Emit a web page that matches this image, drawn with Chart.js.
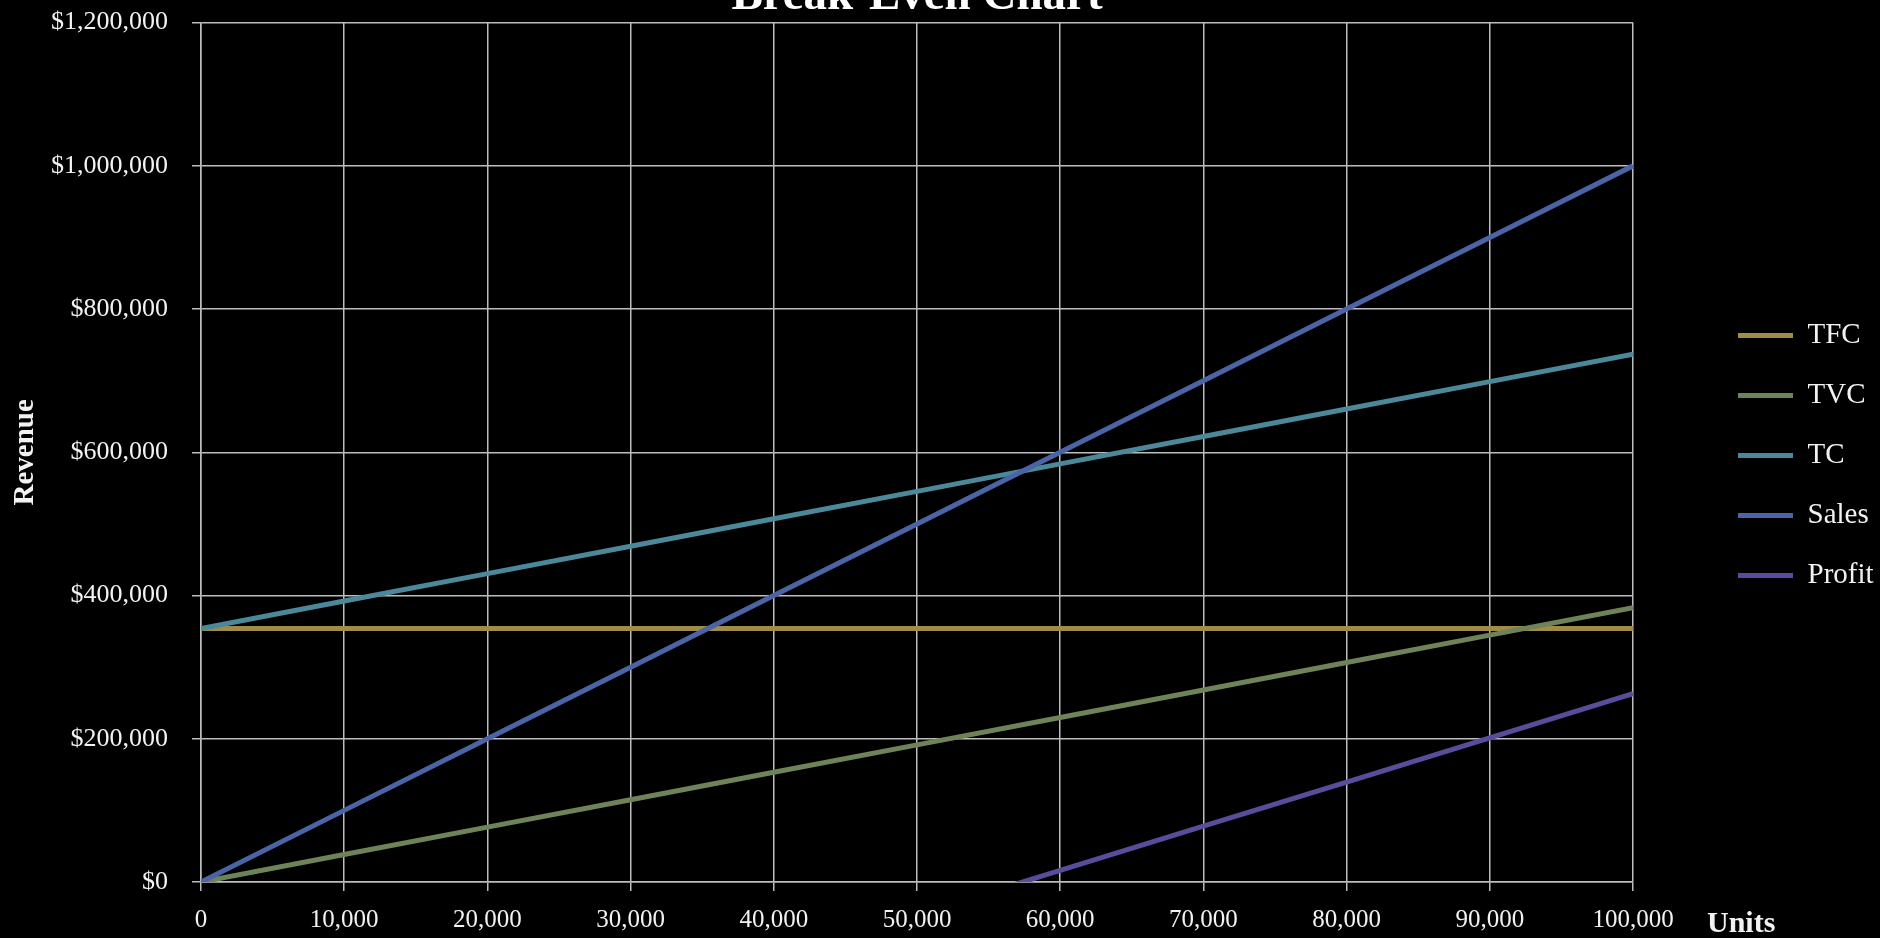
<!DOCTYPE html>
<html>
<head>
<meta charset="utf-8">
<title>Break-Even Chart</title>
<script src="https://cdn.jsdelivr.net/npm/chart.js@4.4.1/dist/chart.umd.min.js"></script>
<style>
    html, body { margin: 0; padding: 0; background: #000; overflow: hidden; }
    #wrap { position: absolute; left: 0; top: -27px; width: 1880px; height: 965px; }
</style>
</head>
<body>
<div id="wrap"><canvas id="breakeven-chart"></canvas></div>
<script>
// Units sold (x axis)
const units = [0, 10000, 20000, 30000, 40000, 50000, 60000, 70000, 80000, 90000, 100000];

// Series values
const tfc    = [354000, 354000, 354000, 354000, 354000, 354000, 354000, 354000, 354000, 354000, 354000];
const tvc    = [0, 38300, 76600, 114900, 153200, 191500, 229800, 268100, 306400, 344700, 383000];
const tc     = [354000, 392300, 430600, 468900, 507200, 545500, 583800, 622100, 660400, 698700, 737000];
const sales  = [0, 100000, 200000, 300000, 400000, 500000, 600000, 700000, 800000, 900000, 1000000];
const profit = [-354000, -292300, -230600, -168900, -107200, -45500, 16200, 77900, 139600, 201300, 263000];

const seriesNames  = ['TFC', 'TVC', 'TC', 'Sales', 'Profit'];
const seriesValues = [tfc, tvc, tc, sales, profit];
const seriesColors = ['#a08c48', '#6f8358', '#4b8899', '#4a64a6', '#5b4b9b'];

// Axis ranges
const yMax = 1200000;
const yStep = 200000;
const xStep = 10000;

(function() {
    'use strict';

    const gridColor = '#bdbdbd';
    const textColor = '#f2f2f2';
    const serif = "'Liberation Serif', 'Times New Roman', serif";

    Chart.defaults.font.family = serif;
    Chart.defaults.color = textColor;

    /**
     * Draws the "Units" label to the right of the last x tick
     */
    const unitsLabel = {
        id: 'unitsLabel',
        afterDraw(chart) {
            const { ctx, chartArea } = chart;
            ctx.save();
            ctx.font = 'bold 30px ' + serif;
            ctx.fillStyle = textColor;
            ctx.textAlign = 'left';
            ctx.textBaseline = 'alphabetic';
            ctx.fillText('Units', chartArea.right + 74, chartArea.bottom + 50);
            ctx.restore();
        }
    };

    const datasets = seriesNames.map((name, i) => ({
        label: name,
        data: units.map((u, j) => ({ x: u, y: seriesValues[i][j] })),
        borderColor: seriesColors[i],
        backgroundColor: seriesColors[i],
        borderWidth: 5,
        pointRadius: 0,
        pointHoverRadius: 0,
        tension: 0,
        fill: false,
        // later series drawn on top, like the original
        order: seriesNames.length - i
    }));

    new Chart(document.getElementById('breakeven-chart'), {
        type: 'line',
        data: { datasets: datasets },
        plugins: [unitsLabel],
        options: {
            responsive: true,
            maintainAspectRatio: false,
            animation: false,
            layout: { padding: 0 },
            plugins: {
                title: {
                    display: true,
                    text: 'Break-Even Chart',
                    fullSize: false,
                    color: '#ffffff',
                    font: { size: 47, weight: 'bold', lineHeight: 1.0 },
                    padding: { top: 0, bottom: 2.6 }
                },
                legend: {
                    position: 'right',
                    maxWidth: 173,
                    labels: {
                        usePointStyle: true,
                        pointStyle: 'line',
                        pointStyleWidth: 55,
                        padding: 31,
                        color: textColor,
                        font: { size: 29 },
                        sort: (a, b) => a.datasetIndex - b.datasetIndex
                    }
                },
                tooltip: { enabled: false }
            },
            scales: {
                x: {
                    type: 'linear',
                    min: 0,
                    max: units[units.length - 1],
                    grid: { color: gridColor, lineWidth: 1.5, tickLength: 9 },
                    border: { color: gridColor, width: 1.5 },
                    ticks: {
                        stepSize: xStep,
                        padding: 14,
                        color: textColor,
                        font: { size: 25 },
                        maxRotation: 0,
                        callback: value => value.toLocaleString('en-US')
                    },
                    afterFit: scale => { scale.height = 56; }
                },
                y: {
                    min: 0,
                    max: yMax,
                    grid: { color: gridColor, lineWidth: 1.5, tickLength: 9 },
                    border: { color: gridColor, width: 1.5 },
                    ticks: {
                        stepSize: yStep,
                        padding: 24,
                        color: textColor,
                        font: { size: 26 },
                        callback: value => '$' + value.toLocaleString('en-US')
                    },
                    title: {
                        display: true,
                        text: 'Revenue',
                        color: textColor,
                        font: { size: 29, weight: 'bold' },
                        padding: { top: 8, bottom: 0 }
                    },
                    afterFit: scale => { scale.width = 201; }
                },
                // empty axis that keeps the gap between plot and legend
                gap: {
                    type: 'linear',
                    position: 'right',
                    display: true,
                    grid: { display: false, drawTicks: false },
                    border: { display: false },
                    ticks: { display: false },
                    afterFit: scale => { scale.width = 74; }
                }
            }
        }
    });
})();
</script>
</body>
</html>
